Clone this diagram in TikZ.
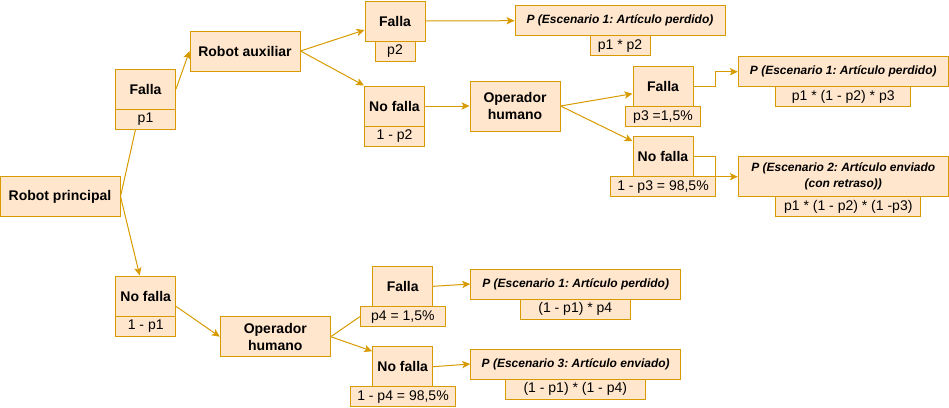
\documentclass[tikz,border=0pt]{standalone}
\usepackage{fontspec}
\setmainfont{Liberation Sans}
\usepackage{tikz}
\usetikzlibrary{arrows.meta,calc}
\definecolor{naranja}{HTML}{FFE6CC}
\definecolor{borde}{HTML}{D79B00}
\frenchspacing

\begin{document}
\begin{tikzpicture}[x=0.75pt,y=-0.75pt]
\tikzset{every node/.style={rectangle,draw=borde,fill=naranja,line width=0.75pt,inner sep=0pt,align=center}}
\tikzstyle{estado}=[font=\fontsize{10.5}{12.5}\selectfont\bfseries,minimum width=45pt,minimum height=30pt]
\tikzstyle{prob}=[font=\fontsize{10.5}{12.5}\selectfont,minimum height=15pt]
\tikzstyle{escen}=[font=\fontsize{9}{12}\selectfont\bfseries\itshape,minimum width=157.5pt,minimum height=22.5pt]
\tikzstyle{flecha}=[draw=borde,line width=0.75pt,-{Stealth[length=6pt,width=5.5pt,inset=1.5pt]}]
\tikzstyle{linea}=[draw=borde,line width=0.75pt]

\useasboundingbox (0,0) rectangle (949,407);

% robot principal
\node[estado,minimum width=90pt] (rp) at (60,196.5) {Robot principal};

% rama falla
\node[estado] (f1) at (145.5,89) {Falla};
\node[prob,minimum width=45pt] (f1p) at (145.5,119) {p1};
\node[estado,minimum width=82.5pt] (ra) at (245,51) {Robot auxiliar};
\node[estado] (f2) at (395,21) {Falla};
\node[prob,minimum width=30pt] (f2p) at (395,51) {p2};
\node[estado] (nf2) at (394.5,106) {No falla};
\node[prob,minimum width=45pt] (nf2p) at (394.5,136) {1 - p2};
\node[escen] (e1a) at (620,20.7) {P (Escenario 1: Artículo perdido)};
\node[prob,minimum width=45pt] (e1ap) at (620,45.7) {p1 * p2};
\node[estado,minimum width=67.5pt,minimum height=37.5pt] (oh1) at (515,106) {Operador\\humano};
\node[estado] (f3) at (663,86.7) {Falla};
\node[prob,minimum width=56.25pt] (f3p) at (663,116.7) {p3 =1,5\%};
\node[estado] (nf3) at (663,156.7) {No falla};
\node[prob,minimum width=78.75pt] (nf3p) at (663,186.7) {1 - p3 = 98,5\%};
\node[escen] (e1b) at (843.3,71.7) {P (Escenario 1: Artículo perdido)};
\node[prob,minimum width=101.25pt] (e1bp) at (843.3,96.7) {p1 * (1 - p2) * p3};
\node[escen,minimum height=30pt] (e2) at (843.3,176.7) {P (Escenario 2: Artículo enviado\\(con retraso))};
\node[prob,minimum width=108.75pt] (e2p) at (848.3,206.7) {p1 * (1 - p2) * (1 -p3)};

% rama no falla
\node[estado] (nf1) at (145.7,296) {No falla};
\node[prob,minimum width=45pt] (nf1p) at (145.7,326) {1 - p1};
\node[estado,minimum width=82.5pt] (oh2) at (275.3,336.7) {Operador\\humano};
\node[estado] (f4) at (402.7,286.3) {Falla};
\node[prob,minimum width=63.75pt] (f4p) at (402.8,316.7) {p4 = 1,5\%};
\node[estado] (nf4) at (402.7,366.7) {No falla};
\node[prob,minimum width=78.75pt] (nf4p) at (403,396.7) {1 - p4 = 98,5\%};
\node[escen] (e1c) at (575.7,284) {P (Escenario 1: Artículo perdido)};
\node[prob,minimum width=82.5pt] (e1cp) at (575.3,309) {(1 - p1) * p4};
\node[escen] (e3) at (575.7,364) {P (Escenario 3: Artículo enviado)};
\node[prob,minimum width=105pt] (e3p) at (575.3,389) {(1 - p1) * (1 - p4)};

% conectores
\draw[linea] (rp.east) -- ($(f1p.south)+(-10,0)$);
\draw[flecha] (f1.east) -- (ra.west);
\draw[flecha] (rp.east) -- ($(nf1.north)+(-6,0)$);
\draw[flecha] (ra.east) -- ($(f2.west)+(0,9)$);
\draw[flecha] (ra.east) -- (nf2.north west);
\draw[flecha] (f2.east) -- (e1a.west);
\draw[flecha] (nf2.east) -- (oh1.west);
\draw[flecha] (oh1.east) -- ($(f3.west)+(0,7)$);
\draw[flecha] (oh1.east) -- ($(nf3.north west)+(0,5)$);
\draw[flecha] (f3.east) -- ++(22,0) |- (e1b.west);
\draw[flecha] (nf3.east) -- ++(22,0) |- (e2.west);
\draw[flecha] ($(nf1.south east)+(0,-10)$) -- (oh2.west);
\draw[linea] (oh2.east) -- (f4p.west);
\draw[flecha] (oh2.east) -- ($(nf4.north west)+(0,5)$);
\draw[flecha] (f4.east) -- (e1c.west);
\draw[flecha] (nf4.east) -- (e3.west);
\end{tikzpicture}
\end{document}
